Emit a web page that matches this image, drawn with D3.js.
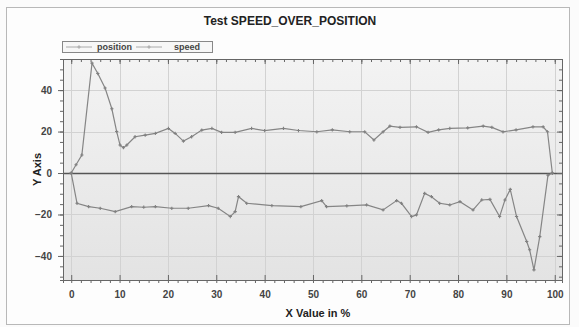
<!DOCTYPE html>
<html>
<head>
<meta charset="utf-8">
<script src="https://cdn.jsdelivr.net/npm/d3@7"></script>
<style>
  html, body { margin: 0; padding: 0; background: #fbfbfb; }
  svg { display: block; font-family: "Liberation Sans", Arial, sans-serif; }
</style>
</head>
<body>
<div id="chart"></div>
<script>
// values
const seriesNames = ["position", "speed"];

const positionX = [0, 1, 2.2, 4.3, 5.5, 7.0, 8.4, 9.4, 10.1, 10.8, 11.5, 13.2, 15.3, 17.4, 20.1, 21.5, 23.2, 24.9, 27, 29.1, 31.1, 33.9, 37.3, 40, 43.9, 47, 50.8, 54, 57.6, 60.7, 62.6, 64.5, 65.9, 68, 71.4, 73.8, 76, 78.3, 82, 85.2, 87, 89.3, 92, 95.5, 97.6, 98.5, 99.5];
const positionY = [0, 4, 8.7, 53, 48, 41, 31, 20, 13.5, 12.2, 13.5, 17.5, 18.3, 19.1, 21.5, 19.1, 15.4, 17.5, 20.7, 21.5, 19.6, 19.6, 21.5, 20.5, 21.5, 20.5, 19.9, 20.8, 19.9, 19.9, 15.9, 19.9, 22.6, 22.0, 22.3, 19.6, 20.8, 21.5, 21.8, 22.6, 22.0, 19.9, 20.8, 22.3, 22.3, 19.9, 0];

const speedX = [0, 1.2, 3.6, 6, 9.1, 12.5, 15, 17.4, 20.8, 24.2, 28.4, 30.4, 32.9, 33.9, 34.6, 36.3, 41.5, 47.5, 51.8, 52.8, 57, 61.1, 64.5, 67.3, 68.3, 70.4, 71.4, 73.1, 74.5, 76.2, 78.3, 80.4, 83.1, 84.9, 86.6, 88.6, 89.7, 90.8, 92.1, 94.2, 94.8, 95.7, 96.9, 98.6, 99.5];
const speedY = [0, -14.6, -16.2, -17, -18.6, -16.2, -16.5, -16.2, -17, -17, -15.7, -17, -21, -18.6, -11.4, -14.6, -15.7, -16.2, -13.3, -16.2, -15.8, -15.4, -17.8, -13.3, -14.6, -21, -20.2, -9.8, -11.4, -14.6, -15.4, -13.8, -17.8, -13, -12.7, -21, -13, -7.9, -21, -33, -37, -46.7, -30.7, -1, 0];

const xTicks = [0, 10, 20, 30, 40, 50, 60, 70, 80, 90, 100];
const yTicks = [-40, -20, 0, 20, 40];

const W = 579, H = 327;
const plot = { left: 63, top: 59, right: 562, bottom: 280 };

const x = d3.scaleLinear().domain([-1.7, 101.5]).range([plot.left, plot.right]);
const y = d3.scaleLinear().domain([-51.6, 55]).range([plot.bottom, plot.top]);

const svg = d3.select("#chart").append("svg")
    .attr("width", W).attr("height", H);

// outer frame
svg.append("rect")
    .attr("x", 6.5).attr("y", 7.5).attr("width", 563).attr("height", 317)
    .attr("fill", "#fdfdfd").attr("stroke", "#b8b8b8");

const defs = svg.append("defs");
const grad = defs.append("linearGradient").attr("id", "bg").attr("x1", 0).attr("y1", 0).attr("x2", 0).attr("y2", 1);
grad.append("stop").attr("offset", 0).attr("stop-color", "#f3f3f3");
grad.append("stop").attr("offset", 1).attr("stop-color", "#e3e3e3");

svg.append("rect")
    .attr("x", plot.left).attr("y", plot.top)
    .attr("width", plot.right - plot.left).attr("height", plot.bottom - plot.top)
    .attr("fill", "url(#bg)");

// grid
const grid = svg.append("g").attr("stroke", "#d2d2d2").attr("stroke-width", 1);
grid.selectAll("line.v").data(xTicks).join("line")
    .attr("x1", d => Math.round(x(d)) + 0.5).attr("x2", d => Math.round(x(d)) + 0.5)
    .attr("y1", plot.top).attr("y2", plot.bottom);
grid.selectAll("line.h").data(yTicks.filter(d => d !== 0)).join("line")
    .attr("y1", d => Math.round(y(d)) + 0.5).attr("y2", d => Math.round(y(d)) + 0.5)
    .attr("x1", plot.left).attr("x2", plot.right);

// zero line
svg.append("line")
    .attr("x1", plot.left).attr("x2", plot.right)
    .attr("y1", Math.round(y(0)) + 0.5).attr("y2", Math.round(y(0)) + 0.5)
    .attr("stroke", "#555").attr("stroke-width", 1.3);

// axes (all four sides, ticks inward + minor ticks)
const xMinor = d3.range(0, 101, 2);
const yMinor = d3.range(-50, 56, 5);

function axisStyle(g) {
    g.select(".domain").attr("stroke", "#666");
    g.selectAll(".tick line").attr("stroke", "#666");
    g.selectAll(".tick text").attr("fill", "#444").attr("font-size", 10).attr("font-weight", "bold");
}

svg.append("g").attr("transform", `translate(0,${plot.bottom})`)
    .call(d3.axisBottom(x).tickValues(xMinor).tickSize(3).tickFormat(""))
    .call(axisStyle);
svg.append("g").attr("transform", `translate(0,${plot.bottom})`)
    .call(d3.axisBottom(x).tickValues(xTicks).tickSize(-5).tickPadding(11).tickSizeOuter(0))
    .call(axisStyle);
svg.append("g").attr("transform", `translate(0,${plot.top})`)
    .call(d3.axisTop(x).tickValues(xMinor).tickSize(-3).tickFormat(""))
    .call(axisStyle);
svg.append("g").attr("transform", `translate(0,${plot.top})`)
    .call(d3.axisTop(x).tickValues(xTicks).tickSize(-5).tickFormat("").tickSizeOuter(0))
    .call(axisStyle);

svg.append("g").attr("transform", `translate(${plot.left},0)`)
    .call(d3.axisLeft(y).tickValues(yMinor).tickSize(3).tickFormat(""))
    .call(axisStyle);
svg.append("g").attr("transform", `translate(${plot.left},0)`)
    .call(d3.axisLeft(y).tickValues(yTicks).tickSize(5).tickPadding(6).tickSizeOuter(0))
    .call(axisStyle);
svg.append("g").attr("transform", `translate(${plot.right},0)`)
    .call(d3.axisRight(y).tickValues(yMinor).tickSize(-3).tickFormat(""))
    .call(axisStyle);
svg.append("g").attr("transform", `translate(${plot.right},0)`)
    .call(d3.axisRight(y).tickValues(yTicks).tickSize(-5).tickFormat("").tickSizeOuter(0))
    .call(axisStyle);

// series
const series = [
    { name: seriesNames[0], pts: positionX.map((d, i) => [d, positionY[i]]) },
    { name: seriesNames[1], pts: speedX.map((d, i) => [d, speedY[i]]) }
];

const line = d3.line().x(d => x(d[0])).y(d => y(d[1]));

const sg = svg.append("g");
sg.selectAll("path").data(series).join("path")
    .attr("fill", "none").attr("stroke", "#858585").attr("stroke-width", 1.2)
    .attr("d", d => line(d.pts));

const cross = d3.symbol().type(d3.symbolCross).size(6);
sg.selectAll("g.m").data(series).join("g")
    .selectAll("path").data(d => d.pts).join("path")
    .attr("transform", d => `translate(${x(d[0])},${y(d[1])})`)
    .attr("d", cross).attr("fill", "#808080");

// title and axis titles
svg.append("text").attr("x", 290).attr("y", 25).attr("text-anchor", "middle")
    .attr("font-size", 12).attr("font-weight", "bold").attr("fill", "#222")
    .text("Test SPEED_OVER_POSITION");

svg.append("text").attr("x", 318).attr("y", 317).attr("text-anchor", "middle")
    .attr("font-size", 11).attr("font-weight", "bold").attr("fill", "#222")
    .text("X Value in %");

svg.append("text").attr("transform", `translate(41,${(plot.top + plot.bottom) / 2}) rotate(-90)`)
    .attr("text-anchor", "middle")
    .attr("font-size", 11).attr("font-weight", "bold").attr("fill", "#222")
    .text("Y Axis");

// legend
const lg = svg.append("g");
lg.append("rect").attr("x", 62.5).attr("y", 41.5).attr("width", 150).attr("height", 11)
    .attr("fill", "#f7f7f7").attr("stroke", "#888");
const items = lg.selectAll("g").data(seriesNames).join("g")
    .attr("transform", (d, i) => `translate(${66 + i * 70},47)`);
items.append("line").attr("x1", 0).attr("x2", 26).attr("stroke", "#aaa");
items.append("path").attr("transform", "translate(13,0)").attr("d", cross).attr("fill", "#aaa");
items.append("text").attr("x", (d, i) => i === 0 ? 31 : 38).attr("dy", "0.35em")
    .attr("font-size", 9).attr("font-weight", "bold").attr("fill", "#444").text(d => d);
</script>
</body>
</html>
